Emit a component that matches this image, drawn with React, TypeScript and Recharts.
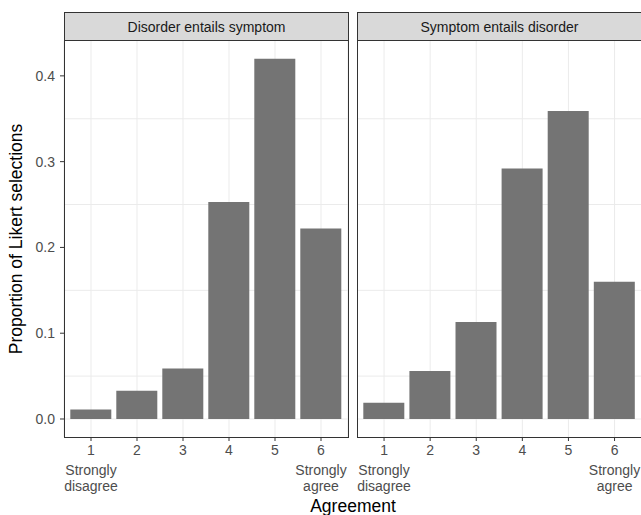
import { BarChart, Bar, XAxis, YAxis, CartesianGrid } from 'recharts'

const agreement = ['1', '2', '3', '4', '5', '6']
const disorderEntailsSymptom = [0.011, 0.033, 0.059, 0.253, 0.42, 0.222]
const symptomEntailsDisorder = [0.019, 0.056, 0.113, 0.292, 0.359, 0.16]
const panelTitles = ['Disorder entails symptom', 'Symptom entails disorder']
const yTicks = [0, 0.1, 0.2, 0.3, 0.4]
const yMinor = [0.05, 0.15, 0.25, 0.35]
const tickNotes: Record<string, string[]> = { '1': ['Strongly', 'disagree'], '6': ['Strongly', 'agree'] }

const FONT = '"Liberation Sans", Arial, Helvetica, sans-serif'
const BAR = '#747474'
const DARK = '#333333'
const yDomain = [-0.021, 0.441]

const panels = [
  agreement.map((a, i) => ({ agreement: a, value: disorderEntailsSymptom[i] })),
  agreement.map((a, i) => ({ agreement: a, value: symptomEntailsDisorder[i] })),
]

function AgreeTick(props: any) {
  const { x, y, payload } = props
  const notes = tickNotes[payload.value] || []
  return (
    <g>
      <text x={x} y={y + 12} textAnchor="middle" fontSize={14} fill="#4d4d4d" fontFamily={FONT}>
        {payload.value}
      </text>
      {notes.map((n, i) => (
        <text key={i} x={x} y={y + 32 + i * 15.5} textAnchor="middle" fontSize={14} fill="#4d4d4d" fontFamily={FONT}>
          {n}
        </text>
      ))}
    </g>
  )
}

function Panel({ data, showY }: { data: { agreement: string; value: number }[]; showY: boolean }) {
  return (
    <BarChart
      width={showY ? 360 : 300}
      height={515}
      data={data}
      margin={{ top: 40.7, right: showY ? 12 : 15.4, bottom: 18, left: showY ? 30 : 0 }}
      barCategoryGap="5%"
    >
      <CartesianGrid stroke="#ebebeb" horizontalValues={[...yTicks, ...yMinor]} />
      <XAxis
        dataKey="agreement"
        height={60}
        padding={{ left: 4, right: 4 }}
        axisLine={false}
        tickLine={{ stroke: DARK }}
        tickSize={4}
        tick={<AgreeTick />}
        interval={0}
      />
      <YAxis
        type="number"
        domain={yDomain}
        allowDataOverflow
        ticks={yTicks}
        hide={!showY}
        width={34}
        axisLine={false}
        tickLine={{ stroke: DARK }}
        tickSize={4}
        tickMargin={5}
        tick={{ fill: '#4d4d4d', fontSize: 14, fontFamily: FONT }}
        tickFormatter={(v: number) => v.toFixed(1)}
      />
      <Bar dataKey="value" fill={BAR} isAnimationActive={false} />
    </BarChart>
  )
}

export default function App() {
  const lefts = [64, 357]
  return (
    <div style={{ position: 'absolute', left: 0, top: 0, width: 641, height: 515, overflow: 'hidden', background: '#fff', fontFamily: FONT }}>
      <div style={{ position: 'absolute', left: 0, top: 0 }}>
        <Panel data={panels[0]} showY />
      </div>
      <div style={{ position: 'absolute', left: 357, top: 0 }}>
        <Panel data={panels[1]} showY={false} />
      </div>
      {panelTitles.map((t, i) => (
        <div key={t}>
          <div
            style={{
              position: 'absolute', left: lefts[i], top: 12, width: 285, height: 29, boxSizing: 'border-box',
              background: '#d9d9d9', border: `1px solid ${DARK}`, color: '#1a1a1a', fontSize: 14,
              display: 'flex', alignItems: 'center', justifyContent: 'center',
            }}
          >
            {t}
          </div>
          <div
            style={{
              position: 'absolute', left: lefts[i], top: 40, width: 285, height: 398, boxSizing: 'border-box',
              border: `1px solid ${DARK}`, pointerEvents: 'none',
            }}
          />
        </div>
      ))}
      <svg width={641} height={515} style={{ position: 'absolute', left: 0, top: 0, pointerEvents: 'none' }}>
        <text x={16} y={239} transform="rotate(-90 16 239)" textAnchor="middle" dominantBaseline="central" fontSize={17.5} fill="#000" fontFamily={FONT}>
          Proportion of Likert selections
        </text>
        <text x={353} y={512} textAnchor="middle" fontSize={17.5} fill="#000" fontFamily={FONT}>
          Agreement
        </text>
      </svg>
    </div>
  )
}
